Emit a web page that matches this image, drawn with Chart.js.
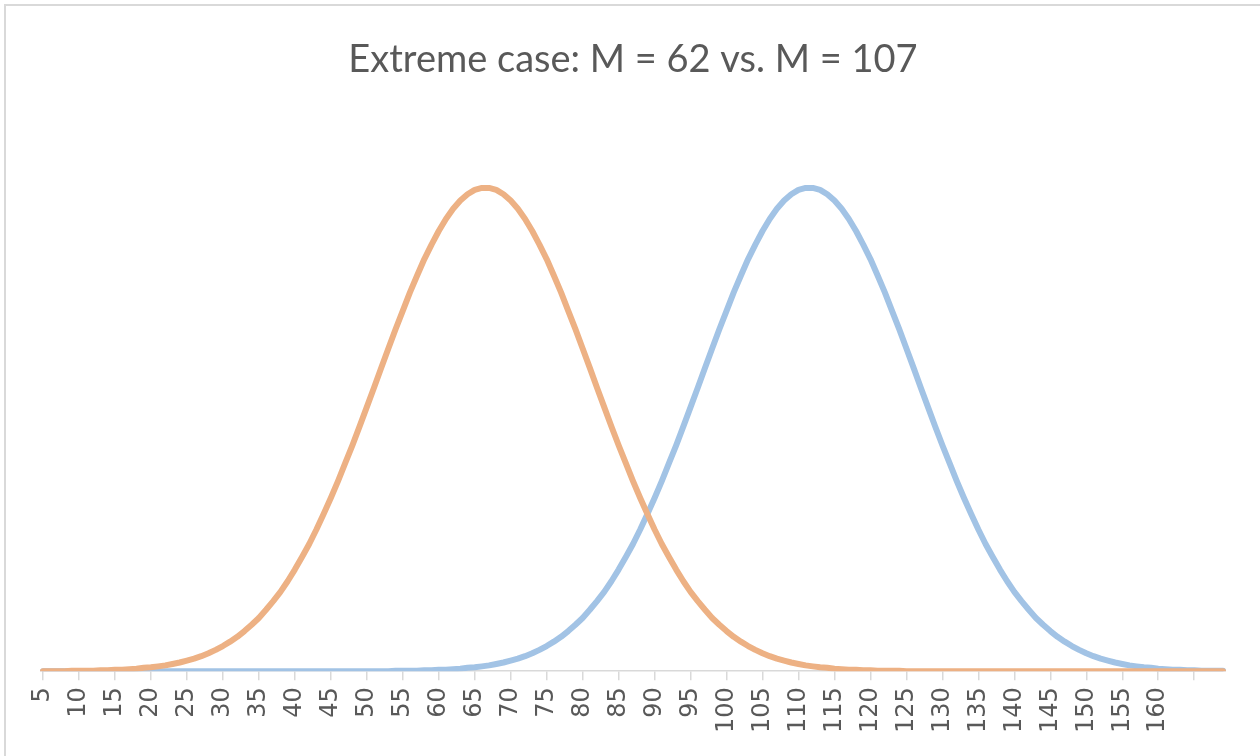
<!DOCTYPE html>
<html>
<head>
<meta charset="utf-8">
<script src="https://cdn.jsdelivr.net/npm/chart.js@4/dist/chart.umd.min.js"></script>
<style>
  html, body { margin: 0; padding: 0; background: #ffffff; }
  body { width: 1260px; height: 756px; overflow: hidden; position: relative; }
  #frame { position: absolute; left: 4px; top: 4px; width: 1300px; height: 800px; border: 2px solid #d9d9d9; box-sizing: border-box; pointer-events: none; }
  #wrap { position: absolute; left: 0; top: 0; width: 1260px; height: 756px; }
</style>
</head>
<body>
<div id="wrap"><canvas id="c" width="1260" height="756"></canvas></div>
<div id="frame"></div>
<script>
const chartTitle = 'Extreme case: M = 62 vs. M = 107';

// x categories (one per row of the source table)
const categories = [
  5,6,7,8,9,10,11,12,13,14,15,16,17,18,19,20,21,22,23,24,
  25,26,27,28,29,30,31,32,33,34,35,36,37,38,39,40,41,42,43,44,
  45,46,47,48,49,50,51,52,53,54,55,56,57,58,59,60,61,62,63,64,
  65,66,67,68,69,70,71,72,73,74,75,76,77,78,79,80,81,82,83,84,
  85,86,87,88,89,90,91,92,93,94,95,96,97,98,99,100,101,102,103,104,
  105,106,107,108,109,110,111,112,113,114,115,116,117,118,119,120,121,122,123,124,
  125,126,127,128,129,130,131,132,133,134,135,136,137,138,139,140,141,142,143,144,
  145,146,147,148,149,150,151,152,153,154,155,156,157,158,159,160,161,162,163,164
];

// relative curve heights (peak ~ 100)
const seriesM62 = [
  0,0,0,0,
  0.1,0.1,0.1,0.1,0.2,0.2,0.3,0.3,0.4,0.5,
  0.7,0.8,1.0,1.2,1.5,1.8,2.2,2.6,3.1,3.7,
  4.4,5.2,6.1,7.1,8.3,9.6,11.0,12.7,14.5,16.4,
  18.6,21.0,23.6,26.3,29.3,32.5,35.8,39.3,43.0,46.7,
  50.6,54.6,58.6,62.7,66.7,70.7,74.5,78.3,81.8,85.2,
  88.2,91.0,93.5,95.6,97.3,98.6,99.5,99.9,
  99.9,99.5,98.6,97.3,95.6,93.5,91.0,88.2,85.2,81.8,
  78.3,74.5,70.7,66.7,62.7,58.6,54.6,50.6,46.7,43.0,
  39.3,35.8,32.5,29.3,26.3,23.6,21.0,18.6,16.4,14.5,
  12.7,11.0,9.6,8.3,7.1,6.1,5.2,4.4,3.7,3.1,
  2.6,2.2,1.8,1.5,1.2,1.0,0.8,0.7,0.5,0.4,
  0.3,0.3,0.2,0.2,0.1,0.1,0.1,0.1,
  0,0,0,0,0,0,0,0,0,0,
  0,0,0,0,0,0,0,0,0,0,
  0,0,0,0,0,0,0,0,0,0,
  0,0,0,0,0,0,0,0,0,0,
  0,0,0,0,0
];

const seriesM107 = [
  0,0,0,0,0,0,0,0,0,0,
  0,0,0,0,0,0,0,0,0,0,
  0,0,0,0,0,0,0,0,0,0,
  0,0,0,0,0,0,0,0,0,0,
  0,0,0,0,0,0,0,0,0,
  0.1,0.1,0.1,0.1,0.2,0.2,0.3,0.3,0.4,0.5,
  0.7,0.8,1.0,1.2,1.5,1.8,2.2,2.6,3.1,3.7,
  4.4,5.2,6.1,7.1,8.3,9.6,11.0,12.7,14.5,16.4,
  18.6,21.0,23.6,26.3,29.3,32.5,35.8,39.3,43.0,46.7,
  50.6,54.6,58.6,62.7,66.7,70.7,74.5,78.3,81.8,85.2,
  88.2,91.0,93.5,95.6,97.3,98.6,99.5,99.9,
  99.9,99.5,98.6,97.3,95.6,93.5,91.0,88.2,85.2,81.8,
  78.3,74.5,70.7,66.7,62.7,58.6,54.6,50.6,46.7,43.0,
  39.3,35.8,32.5,29.3,26.3,23.6,21.0,18.6,16.4,14.5,
  12.7,11.0,9.6,8.3,7.1,6.1,5.2,4.4,3.7,3.1,
  2.6,2.2,1.8,1.5,1.2,1.0,0.8,0.7,0.5,0.4,
  0.3,0.3,0.2,0.2,0.1,0.1,0.1,0.1
];

const labelStep = 5;

// rows beyond the category list have blank labels
const labels = seriesM62.map((v, i) => (i < categories.length ? String(categories[i]) : ''));

new Chart(document.getElementById('c'), {
  type: 'line',
  data: {
    labels: labels,
    datasets: [
      {
        label: 'M = 62',
        data: seriesM62,
        borderColor: '#EDB184',
        borderWidth: 6,
        pointRadius: 0,
        tension: 0,
        borderCapStyle: 'round',
        borderJoinStyle: 'round',
        fill: false,
        order: 0
      },
      {
        label: 'M = 107',
        data: seriesM107,
        borderColor: '#A2C3E5',
        borderWidth: 6,
        pointRadius: 0,
        tension: 0,
        borderCapStyle: 'round',
        borderJoinStyle: 'round',
        fill: false,
        order: 1
      }
    ]
  },
  options: {
    responsive: false,
    animation: false,
    devicePixelRatio: 1,
    layout: { padding: { left: 43, right: 37, top: 0, bottom: 16 } },
    plugins: {
      legend: { display: false },
      tooltip: { enabled: false },
      title: {
        display: true,
        text: chartTitle,
        color: '#595959',
        font: { family: 'Lato', size: 38, weight: 'normal' },
        padding: { top: 37, bottom: 42 }
      }
    },
    scales: {
      x: {
        type: 'category',
        offset: false,
        border: { display: true, color: '#d9d9d9', width: 1.5 },
        grid: {
          drawOnChartArea: false,
          drawTicks: true,
          tickLength: 9,
          lineWidth: 1.5,
          color: (ctx) => (ctx.index % labelStep === 0 ? '#d9d9d9' : 'rgba(0,0,0,0)')
        },
        ticks: {
          autoSkip: false,
          maxRotation: 90,
          minRotation: 90,
          padding: 7,
          color: '#595959',
          font: { family: 'DejaVu Sans', size: 24 },
          callback: function (value, index) {
            const lab = this.getLabelForValue(value);
            return index % labelStep === 0 ? lab : '';
          }
        }
      },
      y: {
        display: false,
        min: 0,
        max: 113
      }
    }
  }
});
</script>
</body>
</html>
